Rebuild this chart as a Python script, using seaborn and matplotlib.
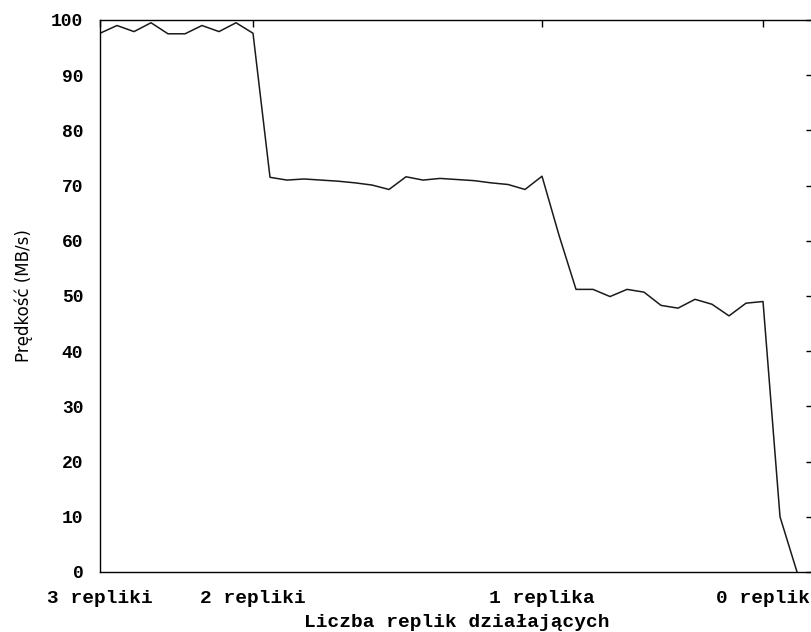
import matplotlib
matplotlib.use("Agg")
import pandas as pd
import matplotlib.pyplot as plt
import seaborn as sns

# dane (jedna probka co krok)
probka = list(range(42))
predkosc = [97.6, 99.0, 97.9, 99.5, 97.5, 97.5, 99.0, 97.9, 99.5, 97.6,
            71.5, 71.0, 71.2, 71.0, 70.8, 70.5, 70.1, 69.3,
            71.6, 71.0, 71.3, 71.1, 70.9, 70.5, 70.2, 69.3, 71.7,
            61.0, 51.2, 51.2, 49.9, 51.2, 50.7, 48.3, 47.8, 49.4, 48.5,
            46.4, 48.7, 49.0,
            10.0, 0.0]
pozycje_replik = [0, 9, 26, 39]
etykiety_replik = ["3 repliki", "2 repliki", "1 replika", "0 replik"]
y_ticks = [0, 10, 20, 30, 40, 50, 60, 70, 80, 90, 100]

df = pd.DataFrame({"probka": probka, "predkosc": predkosc})

sns.set_style("white")
plt.rcParams["font.family"] = ["Liberation Mono", "DejaVu Sans Mono"]

fig = plt.figure(figsize=(8.12, 6.32), dpi=100)
ax = fig.add_axes([100 / 812, 60 / 632, 713 / 812, 552 / 632])

sns.lineplot(data=df, x="probka", y="predkosc", color="#1a1a1a", linewidth=1.1, ax=ax)

ax.set_xlim(0, 41.94)
ax.set_ylim(0, 100)
ax.set_xticks(pozycje_replik)
ax.set_xticklabels(etykiety_replik)
ax.set_yticks(y_ticks)

for s in ax.spines.values():
    s.set_color("black")
    s.set_linewidth(1.0)

ax.tick_params(axis="both", direction="in", length=5, width=1, color="black",
               top=True, right=True, labelcolor="black")
ax.tick_params(axis="y", pad=12, labelsize=13)
ax.tick_params(axis="x", pad=13, labelsize=14)
for lab in ax.get_xticklabels() + ax.get_yticklabels():
    lab.set_fontweight("bold")

ax.set_xlabel("Liczba replik działających", fontsize=14, fontweight="bold",
              color="black", labelpad=5)
ax.set_ylabel("Prędkość (MB/s)", fontsize=12, family=["DejaVu Sans"],
              color="black", labelpad=13)

fig.savefig("out.png", dpi=100)
